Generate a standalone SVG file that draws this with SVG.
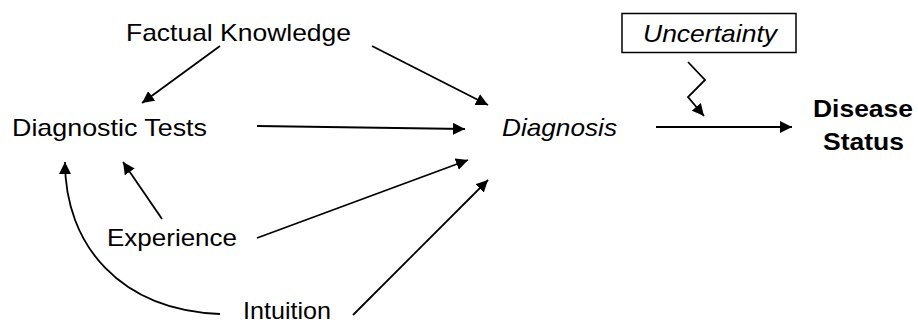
<svg xmlns="http://www.w3.org/2000/svg" width="918" height="323" viewBox="0 0 918 323">
<style>
  .t { font-family: "Liberation Sans", Arial, sans-serif; font-size: 24px; fill: #000; }
  .i { font-style: italic; }
  .b { font-weight: bold; }
  .c { fill: none; stroke: #000; stroke-width: 1.8; marker-end: url(#ah); }
</style>
<defs>
  <marker id="ah" viewBox="0 0 12 12" refX="12" refY="6" markerWidth="12" markerHeight="12" markerUnits="userSpaceOnUse" orient="auto">
    <path d="M0,0 L12,6 L0,12 z" fill="#000"/>
  </marker>
</defs>
<rect width="918" height="323" fill="#fff"/>
<g id="connectors">
  <line class="c" x1="220" y1="46" x2="142" y2="103"/>
  <line class="c" x1="372" y1="46" x2="488" y2="105"/>
  <line class="c" x1="257" y1="126" x2="465" y2="129"/>
  <line class="c" x1="257" y1="238" x2="468" y2="160"/>
  <line class="c" x1="353" y1="315" x2="488" y2="180"/>
  <line class="c" x1="162" y1="219" x2="123" y2="162"/>
  <path class="c" d="M220,314 C120,310 65,245 65,162"/>
  <line class="c" x1="656" y1="127" x2="792" y2="127"/>
  <polyline class="c" points="688,62 705,80 688,97 704,116"/>
</g>
<g id="factual-knowledge"><text class="t" x="126" y="41" textLength="225" lengthAdjust="spacingAndGlyphs">Factual Knowledge</text></g>
<g id="diagnostic-tests"><text class="t" x="12" y="136" textLength="195" lengthAdjust="spacingAndGlyphs">Diagnostic Tests</text></g>
<g id="diagnosis"><text class="t i" x="502" y="136" textLength="115" lengthAdjust="spacingAndGlyphs">Diagnosis</text></g>
<g id="experience"><text class="t" x="107" y="246" textLength="130" lengthAdjust="spacingAndGlyphs">Experience</text></g>
<g id="intuition"><text class="t" x="243" y="319" textLength="88" lengthAdjust="spacingAndGlyphs">Intuition</text></g>
<g id="uncertainty">
  <rect x="622" y="13.5" width="174" height="39" fill="#fff" stroke="#000" stroke-width="1.5"/>
  <text class="t i" x="643" y="42" textLength="134" lengthAdjust="spacingAndGlyphs">Uncertainty</text>
</g>
<g id="disease-status">
  <text class="t b" x="813" y="117" textLength="100" lengthAdjust="spacingAndGlyphs">Disease</text>
  <text class="t b" x="823" y="150" textLength="81" lengthAdjust="spacingAndGlyphs">Status</text>
</g>
</svg>
